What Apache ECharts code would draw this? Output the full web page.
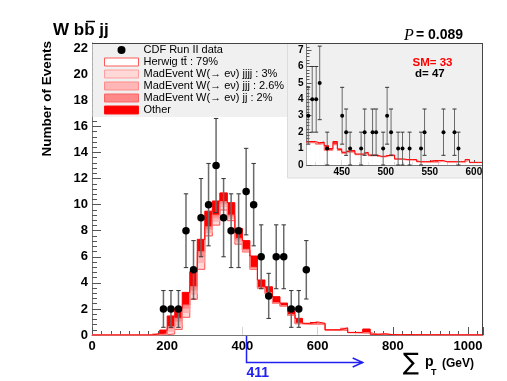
<!DOCTYPE html>
<html>
<head>
<meta charset="utf-8">
<script src="https://cdn.jsdelivr.net/npm/echarts@6/dist/echarts.min.js"></script>
<title>W bb jj sum pT</title>
<style>
  html, body { margin: 0; padding: 0; background: #fff; }
  #main { width: 507px; height: 381px; }
</style>
</head>
<body>
<div id="main"></div>
<script>
// ---- main histogram, 20 GeV bins (low edges) ----
var histMin = 0, histMax = 1040, binWidth = 20;
var binLow = [160,180,200,220,240,260,280,300,320,340,360,380,400,420,440,460,480,500,520,540,
              560,580,600,620,640,660,680,700,720,740,760,780,800,820,840,860,880,900,920,940,
              960,980,1000,1020];
var ttVals    = [0,0.02,0.08,0.43,1.36,2.74,5.04,7.6,8.43,9.59, 8.77,6.97,6.37,5.04,3.56,3.17,2.42,2.2,1.5,0.86,
                 0.82,0.8,0.8,0.36,0.36,0.35,0.18,0.16,0.15,0.05, 0.05,0.03,0.02,0.03,0.02,0.02,0.01,0.02,0.01,0.01,
                 0.01,0.01,0.01,0.01];
var wjjjjVals = [0.01,0.02,0.22,0.34,0.38,0.39,0.54,0.28,0.31,0.26, 0.17,0.18,0.08,0.06,0.04,0.03,0.02,0.02,0.02,0.02,
                 0.01,0.04,0.02,0.01,0.01,0.06,0,0.01,0.01,0, 0.01,0,0,0,0,0,0,0,0,0, 0,0,0,0];
var wjjjVals  = [0.01,0.02,0.19,0.28,0.31,0.32,0.45,0.23,0.25,0.21, 0.14,0.15,0.07,0.05,0.03,0.03,0.02,0.02,0.02,0.01,
                 0.01,0.03,0.02,0.01,0.01,0.05,0.01,0.01,0.01,0, 0.01,0,0,0,0,0,0,0,0,0, 0,0,0,0];
var wjjVals   = [0,0.02,0.15,0.23,0.25,0.26,0.36,0.19,0.21,0.17, 0.12,0.11,0.05,0.04,0.03,0.02,0.02,0.01,0.01,0.01,
                 0.01,0.03,0.01,0,0,0.04,0,0.01,0.01,0, 0.01,0,0,0,0,0,0,0,0,0, 0,0,0,0];
var otherVals = [0.08,0.3,0.82,0.77,0.97,1.15,0.95,1.2,1.08,0.67, 0.95,0.77,0.67,0.87,0.56,0.45,0.46,0.2,0.25,0.38,
                 0.05,0.1,0.05,0.02,0.02,0.05,0.01,0.01,0.28,0, 0,0,0,0,0,0,0,0,0,0, 0,0,0,0];

// ---- CDF data ----
var dataX   = [190,210,230,250,270,290,310,330,350,370,390,410,430,450,470,490,510,530,550,570];
var dataY   = [2,2,2,8,5,9,10,13,9,8,8,11,10,6,3,6,6,2,2,5];
var dataErr = [1.41,1.41,1.41,2.83,2.24,3,3.16,3.61,3,2.83,2.83,3.32,3.16,2.45,1.73,2.45,2.45,1.41,1.41,2.24];

// ---- inset (above the cut), 5 GeV bins ----
var insetMin = 410, insetMax = 610, insetWidth = 5;
var insetLow = [410,415,420,425,430,435,440,445,450,455,460,465,470,475,480,485,490,495,500,505,
                510,515,520,525,530,535,540,545,550,555,560,565,570,575,580,585,590,595,600,605];
var insetBulk  = [1.35,1.35,1.25,1.3,0.88,0.88,1.23,0.88,0.7,0.78, 0.78,0.62,0.62,0.7,0.56,0.56,0.49,0.49,0.56,0.56,
                  0.34,0.34,0.3,0.3,0.3,0.18,0.18,0.18,0.17,0.17, 0.24,0.18,0.18,0.18,0.18,0.18,0.28,0.14,0.14,0.14];
var insetOther = [0.08,0.08,0.1,0.1,0.3,0.12,0.2,0.1,0.08,0.1, 0.1,0.05,0.05,0.08,0.05,0.05,0.04,0.04,0.05,0.05,
                  0.03,0.03,0.03,0.03,0.03,0.02,0.02,0.02,0.1,0.1, 0.03,0.02,0.02,0.02,0.02,0.02,0.05,0.02,0.02,0.02];
var insetX   = [412,416.5,421,425,433.5,450.5,455,459.5,472,476,485,489,497,501.5,506,514,519,527,540,544,565.5,578,582.5];
var insetY   = [3,4,4,5,1,3,2,1,1,2,2,2,1,3,2,1,1,1,1,2,2,2,1];
var insetErr = [1.73,2,2,2.24,1,1.73,1.41,1,1,1.41,1.41,1.41,1,1.73,1.41,1,1,1,1,1.41,1.41,1.41,1];

var cutValue = 411, arrowEnd = 720;
var pValue = '0.089', smCount = 33, dataCount = 47;

var FONT = 'Liberation Sans';
var chart = echarts.init(document.getElementById('main'));

// step outline points for a histogram
function stepData(lows, vals, lo, hi) {
  var d = [];
  if (lo < lows[0]) d.push([lo, 0]);
  for (var i = 0; i < lows.length; i++) d.push([lows[i], vals[i]]);
  d.push([hi, vals[vals.length - 1]]);
  return d;
}
function pairs(xs, ys, es) {
  return xs.map(function (x, i) { return [x, ys[i], es[i]]; });
}
// cumulative sums of layers (stack)
function cumulate(layers) {
  var out = [], run = layers[0].vals.map(function () { return 0; });
  layers.forEach(function (l) {
    var base = run.slice();
    run = run.map(function (v, i) { return v + l.vals[i]; });
    out.push({ base: base, top: run.slice() });
  });
  return out;
}
function renderBins(params, api) {
  var p0 = api.coord([api.value(0), api.value(3)]);
  var p1 = api.coord([api.value(1), api.value(2)]);
  var r = echarts.graphic.clipRectByRect(
    { x: p0[0], y: p0[1], width: p1[0] - p0[0], height: p1[1] - p0[1] },
    params.coordSys);
  return r && { type: 'rect', shape: r, style: { fill: api.visual('color') } };
}

var mainLayers = [
  { name: 'Herwig t\u0074\u0304 : 79%', vals: ttVals, fill: '#ffffff', line: '#ff4a4a', border: '#ff5a5a' },
  { name: 'MadEvent W(\u2192 e\u03bd) jjjj : 3%', vals: wjjjjVals, fill: '#ffd8d8', line: '#ffa8a8', border: '#ff9e9e' },
  { name: 'MadEvent W(\u2192 e\u03bd) jjj : 2.6%', vals: wjjjVals, fill: '#ffb6b6', line: '#ff9090', border: '#ff8a8a' },
  { name: 'MadEvent W(\u2192 e\u03bd) jj : 2%', vals: wjjVals, fill: '#ff8888', line: '#ff7070', border: '#ff6262' },
  { name: 'Other', vals: otherVals, fill: '#ff0000', line: '#ff0000', border: '#ff1010' }
];
var insetLayers = [
  { vals: insetBulk, fill: '#ffffff', line: '#ff8c8c' },
  { vals: insetOther, fill: '#ff2a2a', line: '#ff0000' }
];

function errorBars(capHalf, width) {
  return function (params, api) {
    var x = api.value(0), y = api.value(1), e = api.value(2);
    var top = api.coord([x, y + e]);
    var bot = api.coord([x, y - e]);
    var capStyle = { stroke: '#333', lineWidth: 1 };
    return {
      type: 'group',
      children: [
        { type: 'line', shape: { x1: top[0], y1: top[1], x2: bot[0], y2: bot[1] },
          style: { stroke: '#6a6a6a', lineWidth: width } },
        { type: 'line', shape: { x1: top[0] - capHalf, y1: top[1], x2: top[0] + capHalf, y2: top[1] }, style: capStyle },
        { type: 'line', shape: { x1: bot[0] - capHalf, y1: bot[1], x2: bot[0] + capHalf, y2: bot[1] }, style: capStyle }
      ]
    };
  };
}

function histSeries(layers, lows, width, lo, hi, axisIdx, zBase, named) {
  var out = [];
  var cum = cumulate(layers);
  layers.forEach(function (l, k) {
    out.push({
      name: named ? l.name : undefined, type: 'custom', xAxisIndex: axisIdx, yAxisIndex: axisIdx,
      z: zBase, silent: true, animation: false,
      itemStyle: { color: l.fill, borderColor: l.border || l.line },
      data: lows.map(function (b, i) { return [b, b + width, cum[k].base[i], cum[k].top[i]]; }),
      encode: { x: [0, 1], y: [2, 3] },
      renderItem: renderBins
    });
  });
  // outlines of each cumulative level, drawn above the fills
  layers.forEach(function (l, k) {
    out.push({
      type: 'line', xAxisIndex: axisIdx, yAxisIndex: axisIdx, step: 'end', z: zBase + 1,
      data: stepData(lows, cum[k].top, lo, hi), showSymbol: false, symbol: 'none',
      silent: true, animation: false,
      lineStyle: { color: l.line, width: 1 }
    });
  });
  return out;
}

var series = histSeries(mainLayers, binLow, binWidth, histMin, histMax, 0, 2, true);
series.push({
  type: 'custom', xAxisIndex: 0, yAxisIndex: 0, z: 4, silent: true, animation: false,
  data: pairs(dataX, dataY, dataErr), encode: { x: 0, y: 1 },
  renderItem: errorBars(2.2, 1.5)
});
series.push({
  name: 'CDF Run II data', type: 'scatter', xAxisIndex: 0, yAxisIndex: 0, z: 5, animation: false,
  data: dataX.map(function (x, i) { return [x, dataY[i]]; }),
  symbolSize: 7.5, itemStyle: { color: '#000', opacity: 1 }
});
series = series.concat(histSeries(insetLayers, insetLow, insetWidth, insetMin, insetMax, 1, 6, false));
series.push({
  type: 'custom', xAxisIndex: 1, yAxisIndex: 1, z: 8, silent: true, animation: false,
  data: pairs(insetX, insetY, insetErr), encode: { x: 0, y: 1 },
  renderItem: errorBars(2, 1)
});
series.push({
  type: 'scatter', xAxisIndex: 1, yAxisIndex: 1, z: 9, animation: false,
  data: insetX.map(function (x, i) { return [x, insetY[i]]; }),
  symbolSize: 4, itemStyle: { color: '#000', opacity: 1 }
});

var boldLabel = function (size, margin) {
  return { fontFamily: FONT, fontWeight: 'bold', fontSize: size, color: '#000', margin: margin,
           formatter: function (v) { return String(v); } };
};

var option = {
  backgroundColor: '#ffffff',
  animation: false,
  grid: [
    { left: 92, right: 24, top: 43, bottom: 46, show: false },
    { left: 306.5, right: 24.3, top: 43.5, bottom: 216, show: true,
      backgroundColor: '#f0f0f0', borderWidth: 0, z: 3 }
  ],
  xAxis: [
    { type: 'value', gridIndex: 0, min: histMin, max: histMax, interval: 200,
      axisLine: { lineStyle: { color: '#777', width: 1 } },
      axisTick: { inside: true, length: 8, lineStyle: { color: '#555' } },
      minorTick: { show: true, splitNumber: 8, length: 4, lineStyle: { color: '#555' } },
      splitLine: { show: false },
      axisLabel: Object.assign(boldLabel(13, 5), { showMaxLabel: false }) },
    { type: 'value', gridIndex: 1, min: insetMin, max: insetMax, splitNumber: 4, z: 3,
      axisLine: { lineStyle: { color: '#777', width: 1 } },
      axisTick: { inside: true, length: 5, lineStyle: { color: '#555' } },
      minorTick: { show: true, splitNumber: 5, length: 3, lineStyle: { color: '#555' } },
      splitLine: { show: false },
      axisLabel: Object.assign(boldLabel(10, 2), { showMinLabel: false, showMaxLabel: false }) }
  ],
  yAxis: [
    { type: 'value', gridIndex: 0, min: 0, max: 22.4, interval: 2,
      axisLine: { show: true, lineStyle: { color: '#777', width: 1 } },
      axisTick: { show: true, inside: true, length: 9, lineStyle: { color: '#555' } },
      minorTick: { show: true, splitNumber: 5, length: 5, lineStyle: { color: '#555' } },
      splitLine: { show: false },
      axisLabel: Object.assign(boldLabel(13, 4), { showMaxLabel: false }) },
    { type: 'value', gridIndex: 1, min: 0, max: 7.4, interval: 1, z: 3,
      axisLine: { show: true, lineStyle: { color: '#777', width: 1 } },
      axisTick: { show: true, inside: true, length: 5, lineStyle: { color: '#555' } },
      minorTick: { show: true, splitNumber: 5, length: 3, lineStyle: { color: '#555' } },
      splitLine: { show: false },
      axisLabel: Object.assign(boldLabel(10, 3), { showMaxLabel: false }) }
  ],
  legend: {
    orient: 'vertical', left: 104, top: 44, padding: 0, itemGap: 0,
    itemWidth: 34, itemHeight: 8, selectedMode: false, z: 6,
    textStyle: { fontFamily: FONT, fontSize: 11, color: '#000', lineHeight: 12 },
    data: [{ name: 'CDF Run II data', icon: 'circle', itemStyle: { color: '#000', borderWidth: 0, opacity: 1 } }].concat(
      mainLayers.map(function (l) {
        return { name: l.name, icon: 'rect',
                 itemStyle: { color: l.fill, borderColor: l.border, borderWidth: 1 } };
      }))
  },
  series: series
};
chart.setOption(option);

// decorations that depend on the axis scale
var xCut = chart.convertToPixel({ xAxisIndex: 0 }, cutValue);
var xEnd = chart.convertToPixel({ xAxisIndex: 0 }, arrowEnd);
var blue = '#2020f0';

function txt(x, y, s, font, color, align, extra) {
  var o = { type: 'text', x: x, y: y, z: 20,
    style: { text: s, font: font, fill: color || '#000',
             textAlign: align || 'left', align: align || 'left',
             textVerticalAlign: 'middle', verticalAlign: 'middle' } };
  if (extra) Object.assign(o, extra);
  return o;
}

chart.setOption({
  graphic: [
    // legend box and inset pad
    { type: 'rect', z: 1, shape: { x: 92.5, y: 43.5, width: 195, height: 73.5 }, style: { fill: '#f0f0f0' } },
    { type: 'rect', z: 1, shape: { x: 287.5, y: 43.5, width: 195, height: 134.5 },
      style: { fill: '#f0f0f0', stroke: '#dcdcdc', lineWidth: 1 } },
    // frame top and right
    { type: 'line', z: 15, shape: { x1: 92, y1: 43.5, x2: 483, y2: 43.5 }, style: { stroke: '#444', lineWidth: 1 } },
    { type: 'line', z: 15, shape: { x1: 482.5, y1: 43, x2: 482.5, y2: 335 }, style: { stroke: '#444', lineWidth: 1 } },
    // title
    txt(53, 30, 'W bb jj', 'bold 17px ' + FONT, '#000'),
    { type: 'line', z: 20, shape: { x1: 86, y1: 21.5, x2: 95, y2: 21.5 }, style: { stroke: '#000', lineWidth: 1.5 } },
    // y axis title
    txt(47, 41, 'Number of Events', 'bold 13.5px ' + FONT, '#000', 'right', { rotation: Math.PI / 2 }),
    // x axis title
    txt(403, 364, '\u2211', '24px "DejaVu Sans"', '#000'),
    txt(425, 362, 'p', 'bold 14px ' + FONT, '#000'),
    txt(431, 373, 'T', 'bold 9px ' + FONT, '#000'),
    txt(442, 364, '(GeV)', 'bold 12px ' + FONT, '#000'),
    // P value
    txt(404, 35.5, 'P', 'italic 16px "Liberation Serif"', '#000'),
    txt(416, 35.5, '= ' + pValue, 'bold 14px ' + FONT, '#000'),
    // inset counts
    txt(412.5, 63, 'SM= ' + smCount, 'bold 11.5px ' + FONT, '#ff0000'),
    txt(415, 73.5, 'd= ' + dataCount, 'bold 11.5px ' + FONT, '#000'),
    // cut arrow
    { type: 'polyline', z: 20, shape: { points: [[xCut, 336], [xCut, 362.5], [xEnd, 362.5]] },
      style: { stroke: blue, lineWidth: 1.5, fill: null } },
    { type: 'polyline', z: 20, shape: { points: [[xEnd - 10, 358], [xEnd, 362.5], [xEnd - 10, 367]] },
      style: { stroke: blue, lineWidth: 1.5, fill: null } },
    txt(xCut, 373, String(cutValue), 'bold 14px ' + FONT, blue)
  ]
});
</script>
</body>
</html>
